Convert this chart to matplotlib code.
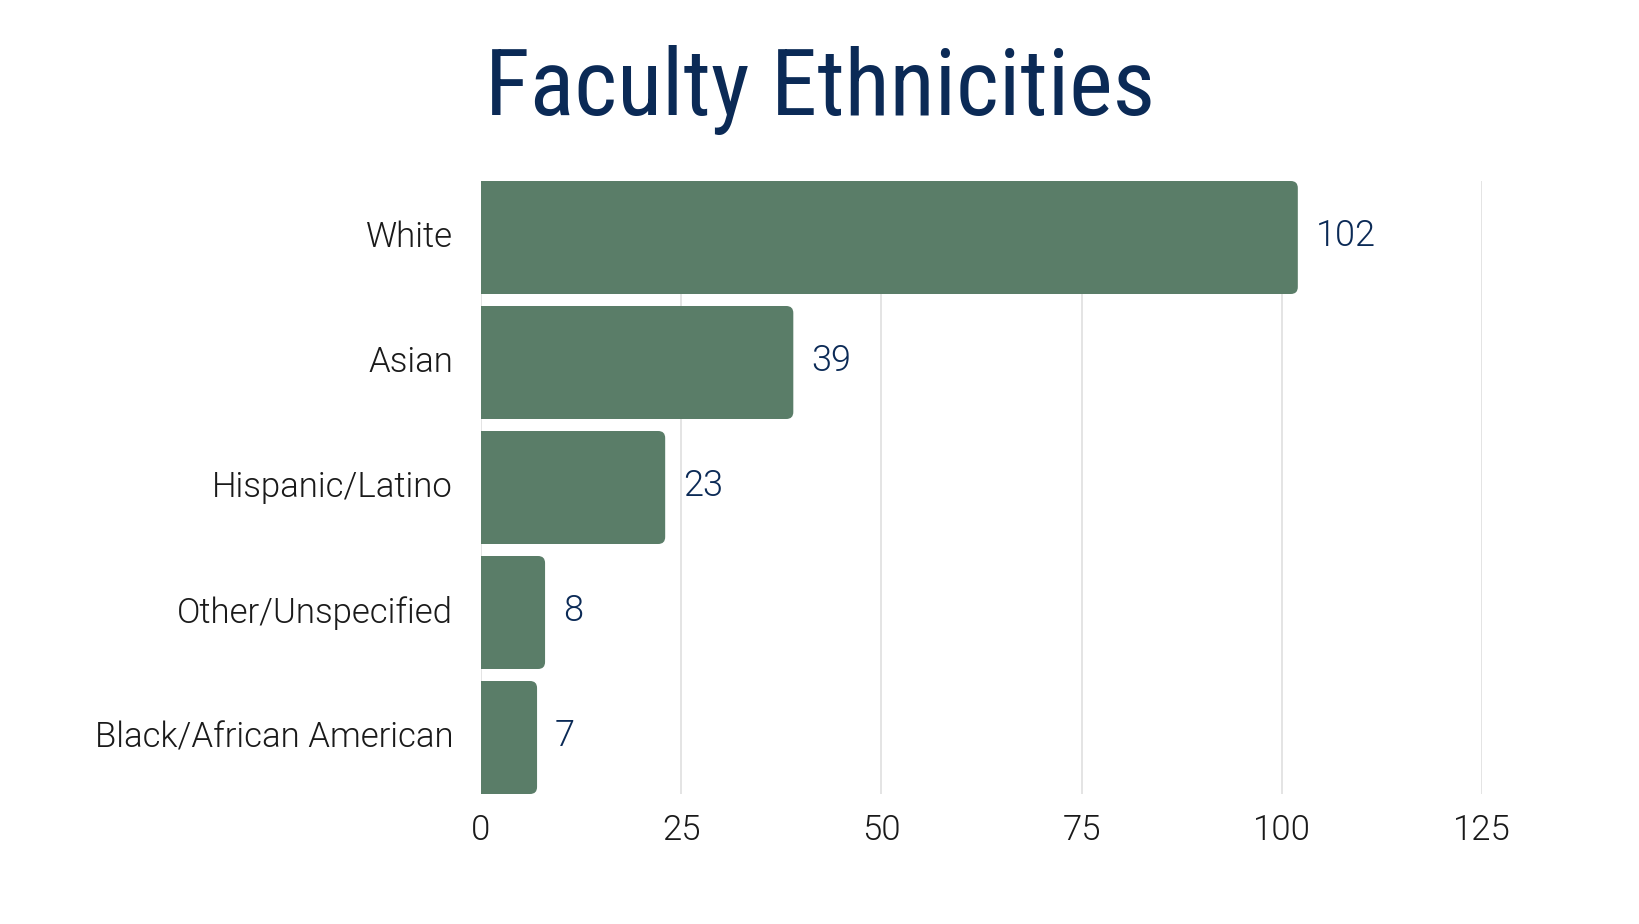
import matplotlib
matplotlib.use("Agg")
import matplotlib.pyplot as plt
from matplotlib.patches import FancyBboxPatch

categories = ["White", "Asian", "Hispanic/Latino", "Other/Unspecified", "Black/African American"]
values = [102, 39, 23, 8, 7]
xticks = [0, 25, 50, 75, 100, 125]

BAR = "#5a7d68"
NAVY = "#0b2a56"
TXT = "#1a1a1a"
LABEL_FONT = ["Roboto", "DejaVu Sans"]
TITLE_FONT = ["Roboto Condensed", "Barlow Semi Condensed", "IBM Plex Sans Condensed", "DejaVu Sans"]

W, H = 1640, 924
fig = plt.figure(figsize=(W / 100, H / 100), dpi=100)
fig.patch.set_facecolor("white")
ax = fig.add_axes([481 / W, 1 - 794 / H, (1482 - 481) / W, (794 - 181) / H])

h = 0.904
ax.set_xlim(0, 125)
ax.set_ylim(len(categories) - 1 + h / 2, -h / 2)

ax.set_xticks(xticks)
ax.set_xticklabels([str(t) for t in xticks])
ax.set_yticks(range(len(categories)))
ax.set_yticklabels(categories)
ax.tick_params(axis="both", length=0, labelsize=25, labelcolor=TXT)
ax.tick_params(axis="x", pad=14)
ax.tick_params(axis="y", pad=20)
for lab in ax.get_xticklabels() + ax.get_yticklabels():
    lab.set_family(LABEL_FONT)
    lab.set_fontweight(300)
for lab in ax.get_yticklabels():
    lab.set_va("center")

for s in ax.spines.values():
    s.set_visible(False)
ax.grid(axis="x", color="#dcdcdc", linewidth=1.1)
ax.set_axisbelow(True)

# aspect for rounding corners
ax_w_px = 1482 - 481
ax_h_px = 794 - 181
x_per_px = 125 / ax_w_px
y_per_px = (len(categories) - 1 + h) / ax_h_px
aspect = y_per_px / x_per_px
r_px = 7
r = r_px * x_per_px
ext = 3 * r  # extends left beyond the axis so left corners are clipped away

for i, v in enumerate(values):
    p = FancyBboxPatch((-ext, i - h / 2), v + ext, h,
                       boxstyle=f"round,pad=0,rounding_size={r}",
                       mutation_aspect=aspect,
                       facecolor=BAR, edgecolor="none", zorder=3)
    ax.add_patch(p)
    ax.annotate(str(v), xy=(v, i), xytext=(13, 1), textcoords="offset points",
                ha="left", va="center", fontsize=26, color=NAVY,
                family=LABEL_FONT, fontweight=300)

fig.text(0.5, 1 - 115 / H, "Faculty Ethnicities", ha="center", va="baseline",
         fontsize=67, color=NAVY, family=TITLE_FONT)

fig.savefig("out.png", dpi=100, facecolor="white")
